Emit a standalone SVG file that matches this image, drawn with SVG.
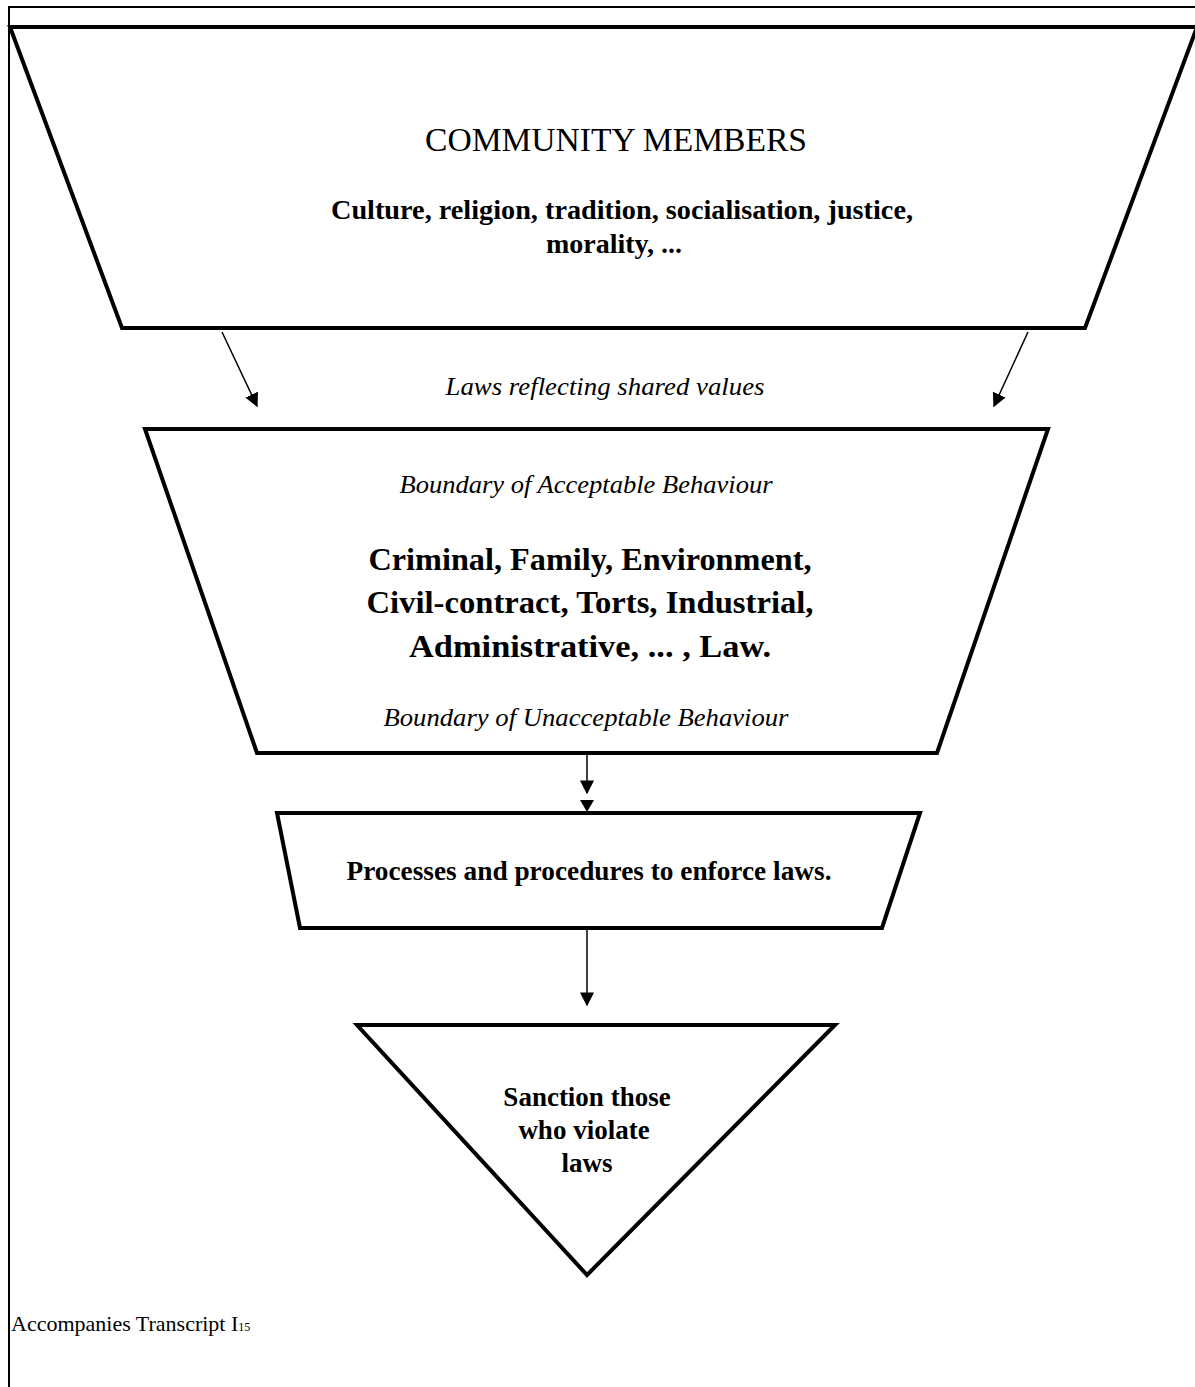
<svg xmlns="http://www.w3.org/2000/svg" width="1195" height="1387" viewBox="0 0 1195 1387">
  <style>
    .shape { fill: #fff; stroke: #000; stroke-width: 4; stroke-linejoin: miter; }
    .frame { fill: none; stroke: #000; stroke-width: 2; }
    .conn { fill: none; stroke: #000; stroke-width: 1.5; }
    text { font-family: "Liberation Serif", "Times New Roman", serif; fill: #000; text-anchor: middle; }
    .b { font-weight: bold; }
    .i { font-style: italic; }
  </style>
  <defs>
    <marker id="arrowBig" viewBox="0 0 10 10" refX="9" refY="5" markerWidth="14" markerHeight="14" markerUnits="userSpaceOnUse" orient="auto">
      <path d="M0,0 L10,5 L0,10 Z" fill="#000"/>
    </marker>
  </defs>

  <rect width="1195" height="1387" fill="#fff"/>

  <!-- page frame -->
  <g id="frame">
    <path class="frame" d="M9,1387 L9,7 L1195,7"/>
  </g>

  <g id="community">
    <path class="shape" d="M10,27 L1197,27 L1085,328 L122,328 Z"/>
    <text x="616" y="151" font-size="33" textLength="382" lengthAdjust="spacingAndGlyphs">COMMUNITY MEMBERS</text>
    <text class="b" x="622" y="219" font-size="28" textLength="582" lengthAdjust="spacingAndGlyphs">Culture, religion, tradition, socialisation, justice,</text>
    <text class="b" x="614" y="253" font-size="28">morality, ...</text>
  </g>

  <g id="laws">
    <path class="shape" d="M145,429 L1048,429 L937,753 L257,753 Z"/>
    <text class="i" x="586" y="493" font-size="26" textLength="373" lengthAdjust="spacingAndGlyphs">Boundary of Acceptable Behaviour</text>
    <text class="b" x="590" y="570" font-size="32" textLength="443" lengthAdjust="spacingAndGlyphs">Criminal, Family, Environment,</text>
    <text class="b" x="590" y="613" font-size="32" textLength="447" lengthAdjust="spacingAndGlyphs">Civil-contract, Torts, Industrial,</text>
    <text class="b" x="590" y="657" font-size="32" textLength="362" lengthAdjust="spacingAndGlyphs">Administrative, ... , Law.</text>
    <text class="i" x="586" y="726" font-size="26" textLength="405" lengthAdjust="spacingAndGlyphs">Boundary of Unacceptable Behaviour</text>
  </g>

  <g id="processes">
    <path class="shape" d="M277,813 L920,813 L882,928 L300,928 Z"/>
    <text class="b" x="589" y="880" font-size="27" textLength="485" lengthAdjust="spacingAndGlyphs">Processes and procedures to enforce laws.</text>
  </g>

  <g id="sanction">
    <path class="shape" d="M357,1025 L835,1025 L587,1275 Z"/>
    <text class="b" x="587" y="1106" font-size="27">Sanction those</text>
    <text class="b" x="584" y="1139" font-size="27">who violate</text>
    <text class="b" x="587" y="1172" font-size="27">laws</text>
  </g>

  <g id="connectors">
    <line class="conn" x1="222" y1="332" x2="257" y2="406" marker-end="url(#arrowBig)"/>
    <line class="conn" x1="1028" y1="332" x2="994" y2="406" marker-end="url(#arrowBig)"/>
    <line class="conn" x1="587" y1="755" x2="587" y2="793" marker-end="url(#arrowBig)"/>
    <path d="M580,800 L594,800 L587,812 Z" fill="#000"/>
    <line class="conn" x1="587" y1="930" x2="587" y2="1005" marker-end="url(#arrowBig)"/>
  </g>

  <text class="i" x="605" y="395" font-size="26" textLength="319" lengthAdjust="spacingAndGlyphs">Laws reflecting shared values</text>

  <text x="11" y="1331" font-size="22" style="text-anchor:start">Accompanies Transcript I<tspan font-size="12">15</tspan></text>
</svg>
